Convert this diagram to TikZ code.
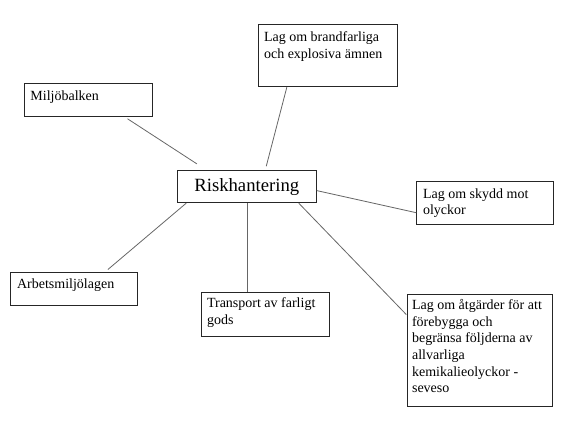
\documentclass[tikz,border=0pt]{standalone}
\usepackage{fontspec}
\setmainfont{Liberation Serif}
\begin{document}
\begin{tikzpicture}[x=1pt,y=-1pt,
  box/.style={draw=black!85,line width=0.9pt,minimum width=#1,inner sep=0pt},
  txt/.style={anchor=north west,inner sep=0pt,align=left,font=\fontsize{14}{16.7}\selectfont},
  conn/.style={draw=black!60,line width=0.8pt}]
\useasboundingbox (0,0) rectangle (564,423);
\node[box=128pt,minimum height=32.7pt] (mb) at (88.3,99.7) {};
\node[box=139pt,minimum height=62.4pt] (br) at (327.8,55.5) {};
\node[box=139pt,minimum height=32.2pt,font=\fontsize{18.7}{22}\selectfont] (rk) at (246.8,186.6) {Riskhantering};
\node[box=136.6pt,minimum height=42.6pt] (sk) at (485,203) {};
\node[box=126.6pt,minimum height=33pt] (ar) at (74,288.5) {};
\node[box=128pt,minimum height=44pt] (tr) at (265,314) {};
\node[box=144.6pt,minimum height=112.7pt] (se) at (480,350.3) {};
\node[txt] (mbt) at ([xshift=6.4pt,yshift=-7.9pt]mb.north west) {Miljöbalken};
\node[txt] (brt) at ([xshift=6pt,yshift=-7.9pt]br.north west) {Lag om brandfarliga\\och explosiva ämnen};
\node[txt] (skt) at ([xshift=6.6pt,yshift=-7.1pt]sk.north west) {Lag om skydd mot\\olyckor};
\node[txt] (art) at ([xshift=6.6pt,yshift=-6.8pt]ar.north west) {Arbetsmiljölagen};
\node[txt] (trt) at ([xshift=6.3pt,yshift=-6.2pt]tr.north west) {Transport av farligt\\gods};
\node[txt] (set) at ([xshift=4.6pt,yshift=-5.5pt]se.north west) {Lag om åtgärder för att\\förebygga och\\begränsa följderna av\\allvarliga\\kemikalieolyckor -\\seveso};
\draw[conn] ([xshift=103.7pt,yshift=-2.3pt]mb.south west) -- ([xshift=20pt,yshift=6.2pt]rk.north west);
\draw[conn] ([xshift=29pt]br.south west) -- ([xshift=89.4pt,yshift=3.8pt]rk.north west);
\draw[conn] ([yshift=-4pt]rk.east) -- ([yshift=-9.7pt]sk.west);
\draw[conn] ([xshift=9.4pt]rk.south west) -- ([xshift=97.6pt,yshift=2pt]ar.north west);
\draw[conn] ([xshift=0.5pt]rk.south) -- ([xshift=-17.7pt]tr.north);
\draw[conn] ([xshift=-18pt]rk.south east) -- ([xshift=-1pt,yshift=-21pt]se.north west);
\end{tikzpicture}
\end{document}
